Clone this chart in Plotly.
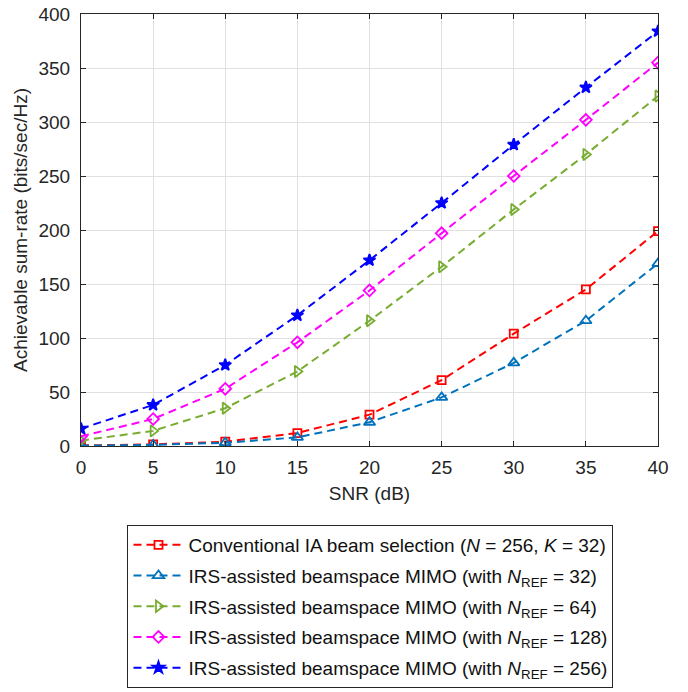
import plotly.graph_objects as go

snr = [0, 5, 10, 15, 20, 25, 30, 35, 40]
conv = [0.5, 1.5, 4, 12, 29, 61, 104, 145, 199]
irs32 = [0.3, 1, 3, 8, 22, 45, 77, 116, 169]
irs64 = [5, 14, 35, 69, 116, 166, 219, 270, 324]
irs128 = [9, 25, 53, 96, 144, 197, 250, 302, 355]
irs256 = [16, 38, 75, 121, 172, 225, 279, 332, 384]

names = [
    "Conventional IA beam selection (<i>N</i> = 256, <i>K</i> = 32)",
    "IRS-assisted beamspace MIMO (with <i>N</i><sub>REF</sub> = 32)",
    "IRS-assisted beamspace MIMO (with <i>N</i><sub>REF</sub> = 64)",
    "IRS-assisted beamspace MIMO (with <i>N</i><sub>REF</sub> = 128)",
    "IRS-assisted beamspace MIMO (with <i>N</i><sub>REF</sub> = 256)",
]
series = [conv, irs32, irs64, irs128, irs256]
colors = ["#FF0000", "#0072BD", "#77AC30", "#FF00FF", "#0000FF"]
symbols = ["square-open", "triangle-up-open", "triangle-right-open", "diamond-open", "star"]
sizes = [8, 10, 10, 9, 9]

FONT = "Liberation Sans, Arial, sans-serif"

fig = go.Figure()
for i, (n, s, c, m, sz) in enumerate(zip(names, series, colors, symbols, sizes)):
    fig.add_trace(go.Scatter(
        x=snr, y=s, name=n, mode="lines+markers", legendgroup=f"g{i}",
        line=dict(color=c, width=2, dash="8px,5px"),
        marker=dict(symbol=m, size=sz, color=c, line=dict(color=c, width=1.8)),
    ))

axis_common = dict(
    showline=True, linecolor="#262626", linewidth=1, mirror="ticks",
    ticks="inside", ticklen=5, tickcolor="#262626",
    showgrid=True, gridcolor="#E0E0E0", gridwidth=1,
    zeroline=False,
    tickfont=dict(family=FONT, size=19, color="#262626"),
)

fig.update_layout(
    width=688, height=692,
    margin=dict(l=81, r=30, t=14, b=246, autoexpand=False),
    paper_bgcolor="white", plot_bgcolor="white",
    font=dict(family=FONT, color="#262626"),
    xaxis=dict(range=[0, 40], tickvals=[0, 5, 10, 15, 20, 25, 30, 35, 40],
               ticklabelstandoff=4,
               title=dict(text="SNR (dB)", font=dict(size=19), standoff=9), **axis_common),
    yaxis=dict(range=[0, 400], tickvals=[0, 50, 100, 150, 200, 250, 300, 350, 400],
               ticklabelstandoff=6,
               title=dict(text="Achievable sum-rate (bits/sec/Hz)", font=dict(size=19), standoff=5), **axis_common),
    legend=dict(
        xref="container", yref="container",
        x=0.5385, xanchor="center", y=1 - 525 / 692, yanchor="top",
        bordercolor="#262626", borderwidth=1, bgcolor="white",
        font=dict(family=FONT, size=19, color="#111111"),
        tracegroupgap=3, itemwidth=50,
    ),
    showlegend=True,
)

fig.write_html("out.html")
